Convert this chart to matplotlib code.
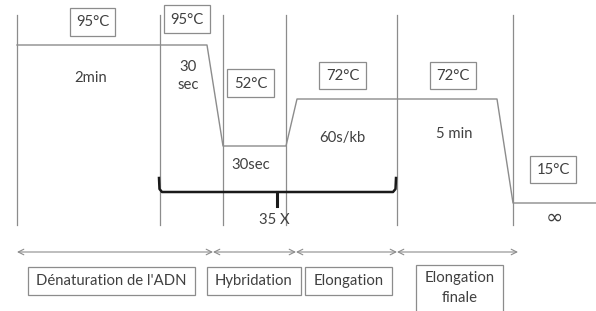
import matplotlib
matplotlib.use("Agg")
import matplotlib.pyplot as plt
from matplotlib.patches import FancyArrowPatch

plt.rcParams['font.family'] = ['Lato', 'DejaVu Sans']

# ---- data (diagram units: x = position along the run, y = level from the top) ----
dividers_x = [17, 160, 223, 286, 397, 513]
profile_x = [17, 207, 223, 286, 297, 497, 513, 596]
profile_y = [45, 45, 146, 146, 99, 99, 203, 203]

temp_labels = ["95°C", "95°C", "52°C", "72°C", "72°C", "15°C"]
temp_box_x = [(70, 115), (164, 210), (227, 274), (319, 366), (430, 476), (530, 576)]
temp_box_y = [(8, 36), (5, 33), (69, 97), (62, 89), (62, 89), (156, 183)]

time_labels = ["2min", "30\nsec", "30sec", "60s/kb", "5 min", "∞"]
time_x = [91, 188, 251, 342, 454, 554]
time_y = [78, 76, 165, 138, 134, 218]

phase_edges = [17, 213, 296, 397, 518]
phase_labels = ["Dénaturation de l'ADN", "Hybridation", "Elongation", "Elongation\nfinale"]
phase_box_x = [(28, 195), (207, 301), (305, 392), (416, 503)]
phase_box_y = [(267, 295), (267, 295), (267, 295), (265, 318)]

cycles_label = "35 X"

GRAY = "#8c8c8c"
TXT = "#404040"
FS = 10.7

fig = plt.figure(figsize=(5.96, 3.11), dpi=100)
ax = fig.add_axes([0, 0, 1, 1])
ax.set_xlim(0, 596)
ax.set_ylim(311, 0)
ax.axis("off")

for x in dividers_x:
    ax.plot([x, x], [15, 225], color=GRAY, lw=0.9)

ax.plot(profile_x, profile_y, color=GRAY, lw=1.0)

def box(x0, x1, y0, y1):
    ax.add_patch(plt.Rectangle((x0, y0), x1 - x0, y1 - y0, fc="white", ec=GRAY, lw=0.9))

for s, (x0, x1), (y0, y1) in zip(temp_labels, temp_box_x, temp_box_y):
    box(x0, x1, y0, y1)
    ax.text((x0 + x1) / 2, (y0 + y1) / 2 + 0.5, s, ha="center", va="center",
            fontsize=FS, color=TXT)

for s, x, y in zip(time_labels, time_x, time_y):
    if s == "∞":
        ax.text(x, y, s, ha="center", va="center", fontsize=15, color=TXT,
                family=["DejaVu Sans"])
    else:
        ax.text(x, y, s, ha="center", va="center", fontsize=FS, color=TXT, linespacing=1.45)

# brace for cycles
bx0, bx1, by = 159, 396, 192
ax.plot([bx0, bx0 + 0.5, bx0 + 3, bx1 - 3, bx1 - 0.5, bx1],
        [178, 189, by, by, 189, 178], color="#1a1a1a", lw=1.8, solid_joinstyle="round")
ax.plot([277, 277], [by, 206], color="#1a1a1a", lw=2.2)
ax.text(274, 220, cycles_label, ha="center", va="center", fontsize=FS, color=TXT)

# phase arrows
for a, b in zip(phase_edges[:-1], phase_edges[1:]):
    arr = FancyArrowPatch((a, 252), (b, 252), arrowstyle="<->,head_length=4,head_width=2",
                          color=GRAY, lw=0.8, shrinkA=0, shrinkB=0)
    ax.add_patch(arr)

for s, (x0, x1), (y0, y1) in zip(phase_labels, phase_box_x, phase_box_y):
    box(x0, x1, y0, y1)
    yc = (y0 + y1) / 2 if y1 < 311 else 288
    ax.text((x0 + x1) / 2, yc, s, ha="center", va="center", fontsize=FS, color=TXT,
            linespacing=1.5)

fig.savefig("out.png", dpi=100)
